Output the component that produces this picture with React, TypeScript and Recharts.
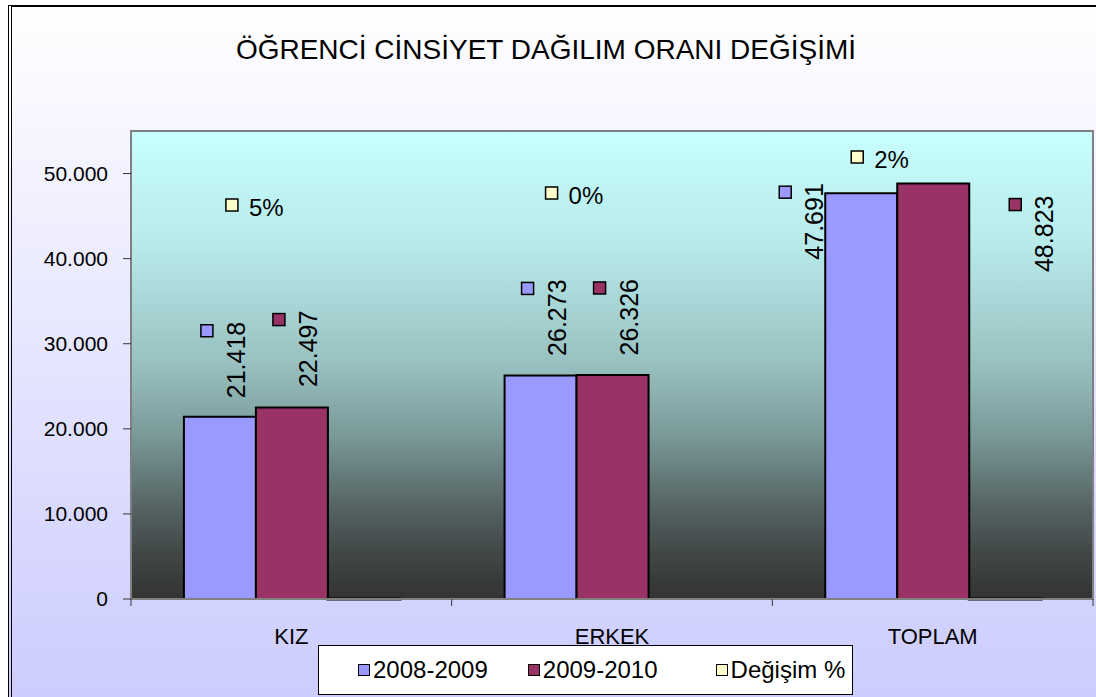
import React from 'react';
import { BarChart, Bar, XAxis, YAxis, CartesianGrid, LabelList, Legend, ReferenceArea } from 'recharts';

const categories = ['KIZ', 'ERKEK', 'TOPLAM'];
const values2008 = [21418, 26273, 47691];
const values2009 = [22497, 26326, 48823];
const changePct = [5, 0, 2];
const yTicks = [0, 10000, 20000, 30000, 40000, 50000];
const seriesNames = ['2008-2009', '2009-2010', 'Değişim %'];
const seriesColors = ['#9999FF', '#993366', '#FFFFCC'];
const title = 'ÖĞRENCİ CİNSİYET DAĞILIM ORANI DEĞİŞİMİ';

// label placement offsets (style), relative to bar center / bar top
const offs2008 = [{ dx: -13, dy: -86 }, { dx: -13, dy: -87 }, { dx: -76, dy: -1 }];
const offs2009 = [{ dx: -13, dy: -88 }, { dx: -13, dy: -87 }, { dx: 82, dy: 21 }];
const offsPct = [{ dx: -132, dy: -394 }, { dx: -133, dy: -406 }, { dx: -148, dy: -442 }];

const data = categories.map((c, i) => ({ name: c, s1: values2008[i], s2: values2009[i], s3: changePct[i] }));

const FONT = "'Liberation Sans', Arial, sans-serif";
const fmt = (v: number) => String(v).replace(/\B(?=(\d{3})+(?!\d))/g, '.');

const makeValueLabel = (offs: { dx: number; dy: number }[], color: string) => (props: any) => {
  const { x, y, width, value, index } = props;
  const cx = Number(x) + Number(width) / 2;
  const o = offs[index] || { dx: 0, dy: 0 };
  const mx = cx + o.dx;
  const my = Number(y) + o.dy;
  return (
    <g>
      <rect x={mx - 6} y={my - 6} width={12} height={12} fill={color} stroke="#000" strokeWidth={1.5} />
      <text
        transform={`translate(${mx + 29},${my - 9}) rotate(-90)`}
        textAnchor="end"
        dominantBaseline="central"
        fontSize={25}
        fontFamily={FONT}
        fill="#000"
      >
        {fmt(value)}
      </text>
    </g>
  );
};

// Attached to the first series (every category present); the percent bar is the third bar in the group
const PctLabel = (props: any) => {
  const { x, y, width, height, value, index } = props;
  const cx = Number(x) + Number(width) * 2.5;
  const base = Number(y) + Number(height);
  const o = offsPct[index] || { dx: 0, dy: 0 };
  const mx = cx + o.dx;
  const my = base + o.dy;
  return (
    <g>
      <rect x={mx - 6} y={my - 6} width={12} height={12} fill={seriesColors[2]} stroke="#000" strokeWidth={1.5} />
      <text x={mx + 17} y={my + 2} dominantBaseline="central" fontSize={24} fontFamily={FONT} fill="#000">
        {`${value}%`}
      </text>
    </g>
  );
};

const XTick = (props: any) => {
  const { x, y, payload } = props;
  const off = payload && payload.offset ? payload.offset : 0;
  return (
    <g>
      <line x1={x + off} y1={y - 7} x2={x + off} y2={y} stroke="#333" strokeWidth={1} />
      {payload.index === 0 && <line x1={x - off} y1={y - 7} x2={x - off} y2={y} stroke="#333" strokeWidth={1} />}
      <text x={x} y={y + 38} textAnchor="middle" fontSize={22} fontFamily={FONT} fill="#000">
        {payload.value}
      </text>
    </g>
  );
};

const LegendContent = () => (
  <div
    style={{
      boxSizing: 'border-box',
      width: 535,
      height: 50,
      background: '#fff',
      border: '1px solid #000',
      display: 'flex',
      alignItems: 'center',
      paddingLeft: 39,
      fontFamily: FONT,
      fontSize: 24,
      color: '#000',
      whiteSpace: 'nowrap',
    }}
  >
    {seriesNames.map((n, i) => (
      <div key={n} style={{ display: 'flex', alignItems: 'center', flexShrink: 0, marginRight: i === 0 ? 40 : 58 }}>
        <span
          style={{
            display: 'inline-block',
            width: 12,
            height: 12,
            boxSizing: 'border-box',
            background: seriesColors[i],
            border: '1px solid #000',
            marginRight: 3,
            flexShrink: 0,
          }}
        />
        <span style={{ whiteSpace: 'nowrap' }}>{n}</span>
      </div>
    ))}
  </div>
);

export default function App() {
  return (
    <div style={{ position: 'absolute', left: 0, top: 0, width: 1096, height: 697, overflow: 'hidden', background: '#fff' }}>
      <div
        style={{
          position: 'absolute',
          left: 8,
          top: 5,
          width: 1300,
          height: 900,
          borderTop: '2px solid #000',
          borderLeft: '4px double #000',
          background: 'linear-gradient(to bottom, #FFFFFF 0px, #CCCCFF 692px)',
        }}
      />
      <svg width={1096} height={100} style={{ position: 'absolute', left: 0, top: 0 }}>
        <text x={546} y={59} textAnchor="middle" fontSize={28} fontFamily={FONT} fill="#000">
          {title}
        </text>
      </svg>
      <div style={{ position: 'absolute', left: 0, top: 0 }}>
        <BarChart
          width={1096}
          height={697}
          data={data}
          margin={{ top: 131, right: 3, bottom: 68, left: 0 }}
          barCategoryGap="16.5%"
          barGap={0}
        >
          <defs>
            <linearGradient id="plotBg" x1="0" y1="0" x2="0" y2="1">
              <stop offset="0%" stopColor="#C8FFFF" />
              <stop offset="25%" stopColor="#B7E9E9" />
              <stop offset="50%" stopColor="#98C0C0" />
              <stop offset="65%" stopColor="#7A9999" />
              <stop offset="80%" stopColor="#566464" />
              <stop offset="90%" stopColor="#414747" />
              <stop offset="100%" stopColor="#333333" />
            </linearGradient>
          </defs>
          <CartesianGrid fill="url(#plotBg)" horizontal={false} vertical={false} />
          <ReferenceArea y1={0} y2={55000} fill="none" stroke="#808080" strokeWidth={2} />
          <XAxis
            dataKey="name"
            tickSize={7}
            tickMargin={0}
            tickLine={false}
            axisLine={{ stroke: '#808080', strokeWidth: 2 }}
            tick={<XTick />}
            interval={0}
          />
          <YAxis
            width={131}
            domain={[0, 55000]}
            ticks={yTicks}
            tickSize={8}
            tickMargin={15}
            tickFormatter={fmt}
            tickLine={{ stroke: '#333' }}
            axisLine={{ stroke: '#808080', strokeWidth: 2 }}
            tick={{ fontSize: 21, fontFamily: FONT, fill: '#000' }}
          />
          <Legend
            layout="horizontal"
            verticalAlign="middle"
            align="center"
            content={<LegendContent />}
            wrapperStyle={{ left: 318, top: 645, width: 535, height: 50 }}
          />
          <Bar dataKey="s1" name={seriesNames[0]} fill={seriesColors[0]} stroke="#000" strokeWidth={2} isAnimationActive={false}>
            <LabelList dataKey="s1" content={makeValueLabel(offs2008, seriesColors[0])} />
            <LabelList dataKey="s3" content={PctLabel} />
          </Bar>
          <Bar dataKey="s2" name={seriesNames[1]} fill={seriesColors[1]} stroke="#000" strokeWidth={2} isAnimationActive={false}>
            <LabelList dataKey="s2" content={makeValueLabel(offs2009, seriesColors[1])} />
          </Bar>
          <Bar dataKey="s3" name={seriesNames[2]} fill={seriesColors[2]} stroke="#000" strokeWidth={3} isAnimationActive={false} />
        </BarChart>
      </div>
    </div>
  );
}
